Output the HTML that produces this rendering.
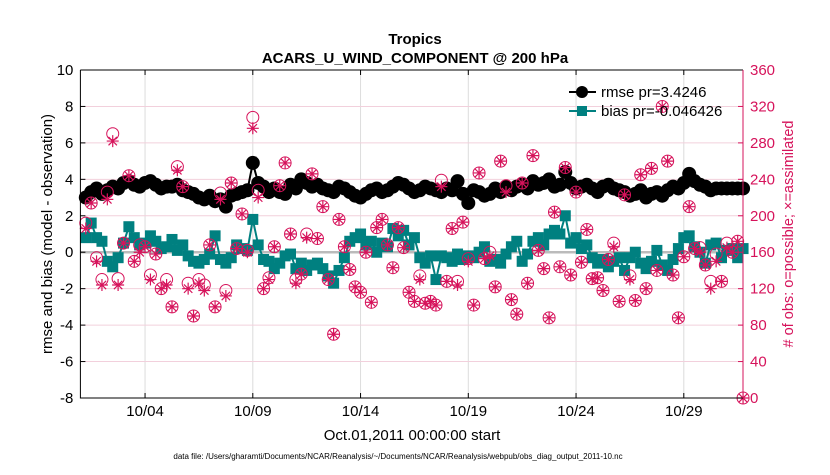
<!DOCTYPE html>
<html><head><meta charset="utf-8"><style>
body{margin:0;background:#fff;}
svg{font-family:"Liberation Sans",sans-serif;}
</style></head><body>
<svg id="chart" width="830" height="470">
<g id="grid"></g>
<g id="marks"></g>
<g id="axes"></g>
<text x="415" y="44" text-anchor="middle" font-size="15" font-weight="bold">Tropics</text>
<text x="415" y="63" text-anchor="middle" font-size="15" font-weight="bold">ACARS_U_WIND_COMPONENT @ 200 hPa</text>
<text x="412" y="440" text-anchor="middle" font-size="15">Oct.01,2011 00:00:00 start</text>
<text transform="translate(52,234) rotate(-90)" text-anchor="middle" font-size="15">rmse and bias (model - observation)</text>
<text transform="translate(793,234) rotate(-90)" text-anchor="middle" font-size="14.5" fill="#d6135b"># of obs: o=possible; ×=assimilated</text>
<text x="398" y="459" text-anchor="middle" font-size="8">data file: /Users/gharamti/Documents/NCAR/Reanalysis/~/Documents/NCAR/Reanalysis/webpub/obs_diag_output_2011-10.nc</text>
<g>
<line x1="569" y1="92" x2="596" y2="92" stroke="#000" stroke-width="2"/>
<circle cx="582" cy="92" r="6" fill="#000"/>
<text x="601" y="97" font-size="15">rmse pr=3.4246</text>
<line x1="569" y1="111" x2="596" y2="111" stroke="#008080" stroke-width="2"/>
<rect x="577" y="106" width="10" height="10" fill="#008080"/>
<text x="601" y="116" font-size="15">bias pr=-0.046426</text>
</g>
</svg>
<script>
const dateLabels=["10/04","10/09","10/14","10/19","10/24","10/29"];
const dateDays=[3,8,13,18,23,28];
const leftTicks=[-8,-6,-4,-2,0,2,4,6,8,10];
const rightTicks=[0,40,80,120,160,200,240,280,320,360];
const rmse=[3.0,3.3,3.5,3.2,3.4,3.6,3.5,3.8,3.9,3.7,3.6,3.8,3.9,3.7,3.5,3.6,3.6,3.7,3.4,3.3,
3.2,3.0,2.9,3.1,2.8,2.9,2.5,3.1,3.2,3.3,3.4,4.9,3.8,3.6,3.3,3.5,3.3,3.2,3.7,3.5,
4.0,3.8,3.6,3.7,3.5,3.4,3.3,3.6,3.5,3.3,3.1,3.0,3.2,3.4,3.5,3.3,3.4,3.6,3.8,3.7,
3.5,3.3,3.4,3.6,3.5,3.4,3.3,3.5,3.4,3.9,3.2,2.7,3.4,3.3,3.1,3.2,3.5,3.3,3.6,3.4,
3.6,3.7,3.5,3.9,3.7,3.8,4.0,3.6,3.7,4.4,3.8,3.5,3.6,3.7,3.5,3.3,3.6,3.7,3.5,3.4,
3.3,3.1,3.2,3.4,3.0,3.2,3.3,3.1,3.4,3.6,3.5,3.8,4.3,3.9,3.7,3.6,3.4,3.5,3.5,3.5,3.5,3.5,3.5];
const bias=[0.8,1.6,0.8,0.6,-0.5,-0.8,-0.3,0.5,1.4,0.8,0.4,0.5,0.9,0.6,0.2,0.3,0.7,0.1,0.4,-0.2,
-0.5,-0.6,-0.4,-0.1,0.9,-0.4,-0.6,-0.3,0.4,0.2,0.1,1.8,0.4,-0.4,-0.5,-0.9,-0.6,-0.2,-0.1,-0.9,
-0.6,-1.0,-0.7,-0.6,-0.9,-1.3,-1.7,-1.0,-0.3,0.6,0.8,1.0,0.4,0.6,0.0,0.5,0.3,1.3,0.9,1.2,
0.4,0.8,-0.3,-0.6,-0.2,-1.5,-0.2,-0.3,-0.5,-0.1,-0.4,-0.2,-0.3,0.0,0.3,-0.5,-0.4,-0.6,-0.1,0.3,
0.6,-0.5,-0.1,0.6,0.8,0.4,1.0,1.2,1.0,2.0,0.5,0.8,0.2,0.4,-0.3,-0.6,-0.4,-0.8,-0.5,-0.3,
-1.0,-0.3,0.0,-0.6,-0.9,-0.5,0.1,-0.7,-1.0,-0.4,0.2,0.8,0.9,0.3,0.0,-0.6,0.4,0.5,-0.3,0.1,0.2,-0.3,0.2];
const possible=[192,214,154,130,226,290,131,170,244,150,168,166,135,158,120,130,100,254,232,126,
90,130,124,168,100,225,118,236,164,202,162,308,228,120,132,166,233,258,180,130,
136,180,246,175,210,130,70,196,166,141,122,116,160,105,187,196,168,143,187,165,
116,106,134,104,106,102,239,128,186,128,193,153,102,247,153,160,122,260,233,108,
92,236,126,266,162,142,88,204,144,253,135,226,149,185,131,132,118,152,170,106,
223,134,107,245,120,252,140,320,260,135,88,155,210,164,165,146,128,158,128,170,160,172,0];
const assimilated=[186,214,150,124,218,282,124,170,244,150,160,166,130,158,120,124,100,250,232,120,
90,126,118,168,100,218,112,236,164,202,160,296,220,120,130,166,233,258,180,126,
136,176,246,175,210,130,70,196,166,141,122,116,160,105,187,196,168,143,187,165,
116,106,130,104,106,102,232,128,186,124,193,150,102,247,153,156,122,260,226,108,
92,236,126,266,162,142,88,204,144,253,135,226,149,185,131,132,118,152,166,106,
223,130,107,245,120,252,140,320,260,135,88,155,210,164,160,146,120,150,128,165,160,172,0];

const NS="http://www.w3.org/2000/svg";
const X0=80.4,X1=743,Y0=70,Y1=398,PXD=21.55;
const xs=d=>X0+d*PXD;
const yl=v=>Y1-(v+8)*(Y1-Y0)/18;
const yr=c=>Y1-c*(Y1-Y0)/360;
const tOf=i=>0.25*i+0.25;
function mk(tag,attrs,parent){const e=document.createElementNS(NS,tag);for(const k in attrs)e.setAttribute(k,attrs[k]);parent.appendChild(e);return e;}
const grid=document.getElementById('grid'),marks=document.getElementById('marks'),axes=document.getElementById('axes');
mk('rect',{x:X0,y:Y0,width:X1-X0,height:Y1-Y0,fill:'#fff'},grid);
dateDays.forEach((d,k)=>{
 const g=mk('line',{x1:xs(d),x2:xs(d),y1:Y0,y2:Y1,stroke:'#dcdcdc','stroke-width':1},grid);
 
 
 mk('line',{x1:xs(d),x2:xs(d),y1:Y1,y2:Y1-5,stroke:'#000'},axes);
 mk('line',{x1:xs(d),x2:xs(d),y1:Y0,y2:Y0+5,stroke:'#000'},axes);
 const t=mk('text',{x:xs(d),y:Y1+18,'text-anchor':'middle','font-size':15},axes);t.textContent=dateLabels[k];
 
 
});
leftTicks.forEach(v=>{
 const g=mk('line',{x1:X0,x2:X1,y1:yl(v),y2:yl(v),stroke:'#f2d0dc','stroke-width':1},grid);
 
 
 mk('line',{x1:X0,x2:X0+5,y1:yl(v),y2:yl(v),stroke:'#000'},axes);
 const t=mk('text',{x:X0-7,y:yl(v)+5,'text-anchor':'end','font-size':15},axes);t.textContent=v;
 
 
});
rightTicks.forEach(c=>{
 mk('line',{x1:X1,x2:X1-5,y1:yr(c),y2:yr(c),stroke:'#d6135b'},axes);
 const t=mk('text',{x:X1+7,y:yr(c)+5,'font-size':15,fill:'#d6135b'},axes);t.textContent=c;
 
 
});
mk('line',{x1:X0,x2:X1,y1:yl(0),y2:yl(0),stroke:'#bbb','stroke-width':2.5},grid);
mk('path',{d:`M${X0},${Y0}H${X1}M${X0},${Y0}V${Y1}H${X1}`,fill:'none',stroke:'#000','stroke-width':1},axes);
mk('line',{x1:X1,x2:X1,y1:Y0,y2:Y1,stroke:'#d6135b','stroke-width':1},axes);
let p='';rmse.forEach((v,i)=>{p+=(i?'L':'M')+xs(tOf(i)).toFixed(1)+','+yl(v).toFixed(1);});
mk('path',{d:p,fill:'none',stroke:'#000','stroke-width':2},marks);
rmse.forEach((v,i)=>{const c=mk('circle',{cx:xs(tOf(i)),cy:yl(v),r:7,fill:'#000'},marks);
 
 });
p='';bias.forEach((v,i)=>{p+=(i?'L':'M')+xs(tOf(i)).toFixed(1)+','+yl(v).toFixed(1);});
mk('path',{d:p,fill:'none',stroke:'#008080','stroke-width':2},marks);
bias.forEach((v,i)=>{const r=mk('rect',{x:xs(tOf(i))-5.5,y:yl(v)-5.5,width:11,height:11,fill:'#008080'},marks);
 
 });
possible.forEach((c,i)=>{const e=mk('circle',{cx:xs(tOf(i)),cy:yr(c),r:6,fill:'none',stroke:'#d6135b','stroke-width':1},marks);
 
 });
assimilated.forEach((c,i)=>{const x=xs(tOf(i)),y=yr(c),s=6,d=4.2;
 const e=mk('path',{d:`M${x-s},${y}H${x+s}M${x},${y-s}V${y+s}M${x-d},${y-d}L${x+d},${y+d}M${x-d},${y+d}L${x+d},${y-d}`,stroke:'#d6135b','stroke-width':1.2,fill:'none'},marks);
 
 });
</script>
</body></html>
